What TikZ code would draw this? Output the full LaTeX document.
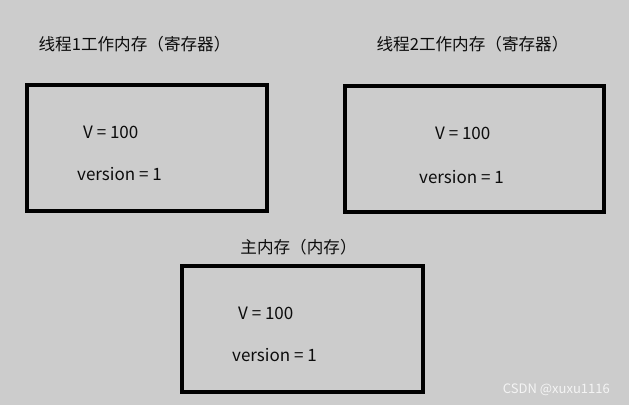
\documentclass[tikz,border=0pt]{standalone}
\usepackage{fontspec}
\setmainfont{Noto Sans CJK SC}
\usetikzlibrary{positioning}
\newcommand{\boxLine}{4pt}
\newcommand{\boxHeight}{126pt}
\newcommand{\titleSize}{16.6}
\newcommand{\valSize}{17}
\definecolor{bgGray}{RGB}{204,204,204}
\definecolor{textGray}{RGB}{12,12,12}
\definecolor{markWhite}{RGB}{244,244,244}
\tikzstyle{memBox}=[draw=black, line width=\boxLine, inner sep=0, outer sep=0, minimum height=\boxHeight]
\tikzstyle{titleText}=[inner sep=0, text=textGray, font=\fontsize{\titleSize}{\titleSize}\selectfont]
\tikzstyle{valText}=[inner sep=0, anchor=west, text=textGray, font=\fontsize{\valSize}{\valSize}\selectfont]
\tikzstyle{markText}=[inner sep=0, anchor=east, text=markWhite, font=\fontsize{13}{13}\selectfont]

\begin{document}
\begin{tikzpicture}[x=1pt, y=-1pt]

% Background
\fill[bgGray] (0,0) rectangle (629,405);
\useasboundingbox (0,0) rectangle (629,405);

% Boxes
\node[memBox, minimum width=240pt] (boxOne) at (147,148) {};
\node[memBox, minimum width=259pt] (boxTwo) at (474.5,148.5) {};
\node[memBox, minimum width=241pt] (boxMain) at (302.5,329) {};

% Titles
\node[titleText] (titleOne) at (134.5,44) {线程1工作内存（寄存器）};
\node[titleText] (titleTwo) at (472.5,44) {线程2工作内存（寄存器）};
\node[titleText] (titleMain) at (298.5,247) {主内存（内存）};

% Values
\node[valText] (vOne) at (83,132) {V\ =\ 100};
\node[valText] (verOne) at (77,174) {version = 1};
\node[valText] (vTwo) at (435,133) {V\ =\ 100};
\node[valText] (verTwo) at (419,177) {version = 1};
\node[valText] (vMain) at (238,313) {V\ =\ 100};
\node[valText] (verMain) at (232,355) {version = 1};

% Watermark
\node[markText] (mark) at (610,390) {CSDN @xuxu1116};

\end{tikzpicture}
\end{document}
